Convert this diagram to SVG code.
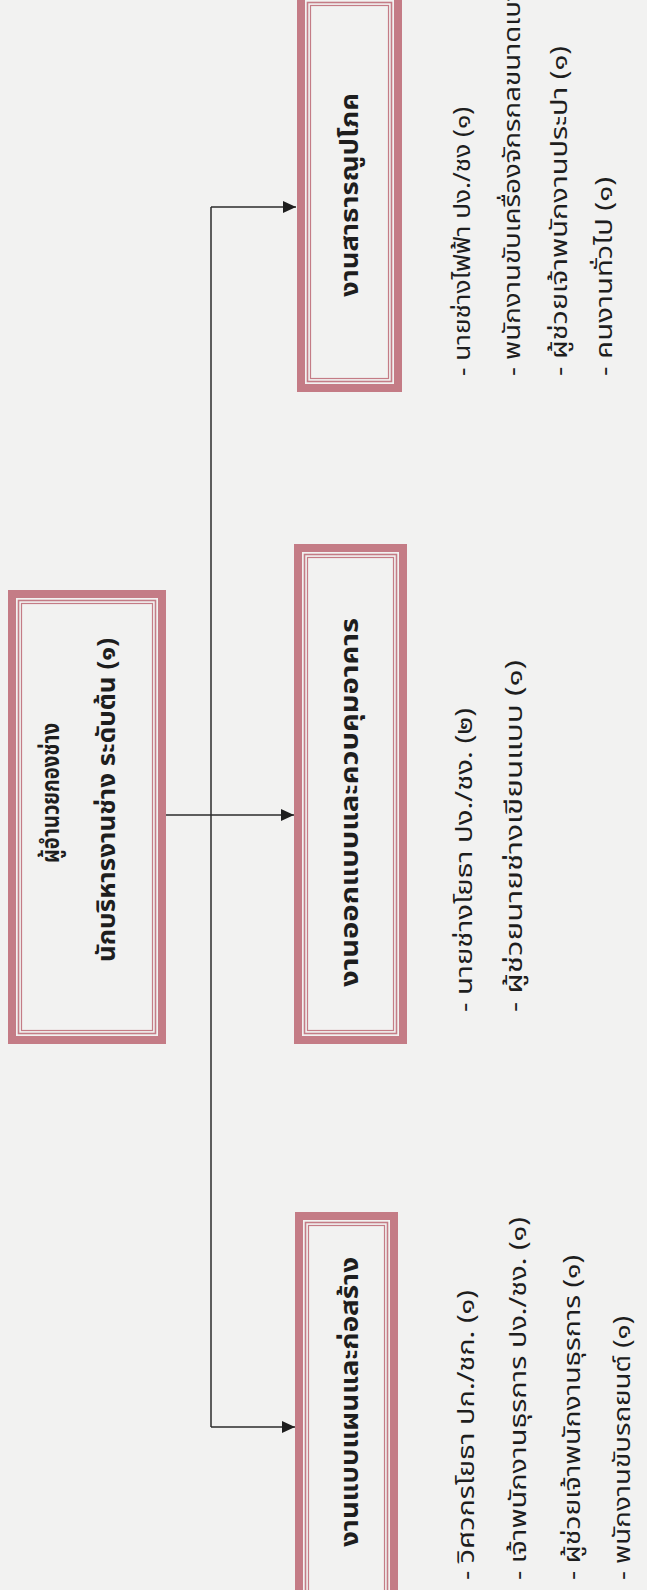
<svg xmlns="http://www.w3.org/2000/svg" width="647" height="1590" viewBox="0 0 647 1590">
<style>
.bg{fill:#f2f2f1}
.band{fill:none;stroke:#c47c86;stroke-width:8}
.thin1{fill:none;stroke:#c47c86;stroke-width:1.6}
.thin2{fill:none;stroke:#c47c86;stroke-width:1.2}
.conn{fill:none;stroke:#2b2b2b;stroke-width:1.5}
text{font-family:"Noto Sans Thai","Noto Sans","DejaVu Sans",sans-serif;fill:#1e1e1e}
.title{font-size:25px;font-weight:bold}
.item{font-size:23px}
</style>
<defs>
<marker id="ah" markerUnits="userSpaceOnUse" markerWidth="14" markerHeight="12" refX="13" refY="6" orient="auto">
<path d="M0,0 L13,6 L0,12 Z" fill="#1e1e1e"/>
</marker>
</defs>
<rect class="bg" x="0" y="0" width="647" height="1590"/>

<g id="connectors">
<line class="conn" x1="211" y1="207" x2="211" y2="1427"/>
<line class="conn" x1="211" y1="207" x2="296" y2="207" marker-end="url(#ah)"/>
<line class="conn" x1="158" y1="815" x2="294" y2="815" marker-end="url(#ah)"/>
<line class="conn" x1="211" y1="1427" x2="295" y2="1427" marker-end="url(#ah)"/>
</g>

<g id="node-head">
<rect class="band" x="12" y="594" width="150" height="446"/>
<rect class="thin1" x="18.5" y="600.5" width="137" height="433"/>
<rect class="thin2" x="21.5" y="603.5" width="131" height="427"/>
<text class="title" transform="translate(59,863) rotate(-90)" textLength="140" lengthAdjust="spacingAndGlyphs">ผู้อำนวยกองช่าง</text>
<text class="title" transform="translate(115,962) rotate(-90)" textLength="324" lengthAdjust="spacingAndGlyphs">นักบริหารงานช่าง ระดับต้น (๑)</text>
</g>

<g id="node-utilities">
<rect class="band" x="301" y="-4" width="97" height="392"/>
<rect class="thin1" x="307.5" y="2.5" width="84" height="379"/>
<rect class="thin2" x="310.5" y="5.5" width="78" height="373"/>
<text class="title" transform="translate(358,297) rotate(-90)" textLength="204" lengthAdjust="spacingAndGlyphs">งานสาธารณูปโภค</text>
</g>
<g id="list-utilities">
<text class="item" transform="translate(470,376) rotate(-90)" textLength="269" lengthAdjust="spacingAndGlyphs">- นายช่างไฟฟ้า ปง./ชง (๑)</text>
<text class="item" transform="translate(520,376) rotate(-90)" textLength="425" lengthAdjust="spacingAndGlyphs">- พนักงานขับเครื่องจักรกลขนาดเบา (๑)</text>
<text class="item" transform="translate(567,376) rotate(-90)" textLength="330" lengthAdjust="spacingAndGlyphs">- ผู้ช่วยเจ้าพนักงานประปา (๑)</text>
<text class="item" transform="translate(612,376) rotate(-90)" textLength="199" lengthAdjust="spacingAndGlyphs">- คนงานทั่วไป (๑)</text>
</g>

<g id="node-design">
<rect class="band" x="298" y="548" width="105" height="492"/>
<rect class="thin1" x="304.5" y="554.5" width="92" height="479"/>
<rect class="thin2" x="307.5" y="557.5" width="86" height="473"/>
<text class="title" transform="translate(358,987) rotate(-90)" textLength="369" lengthAdjust="spacingAndGlyphs">งานออกแบบและควบคุมอาคาร</text>
</g>
<g id="list-design">
<text class="item" transform="translate(472,1012) rotate(-90)" textLength="304" lengthAdjust="spacingAndGlyphs">- นายช่างโยธา  ปง./ชง. (๒)</text>
<text class="item" transform="translate(522,1012) rotate(-90)" textLength="352" lengthAdjust="spacingAndGlyphs">- ผู้ช่วยนายช่างเขียนแบบ (๑)</text>
</g>

<g id="node-construction">
<rect class="band" x="299" y="1216" width="95" height="390"/>
<rect class="thin1" x="305.5" y="1222.5" width="82" height="377"/>
<rect class="thin2" x="308.5" y="1225.5" width="76" height="371"/>
<text class="title" transform="translate(358,1547) rotate(-90)" textLength="290" lengthAdjust="spacingAndGlyphs">งานแบบแผนและก่อสร้าง</text>
</g>
<g id="list-construction">
<text class="item" transform="translate(474,1580) rotate(-90)" textLength="290" lengthAdjust="spacingAndGlyphs">- วิศวกรโยธา ปก./ชก. (๑)</text>
<text class="item" transform="translate(526,1580) rotate(-90)" textLength="363" lengthAdjust="spacingAndGlyphs">- เจ้าพนักงานธุรการ ปง./ชง. (๑)</text>
<text class="item" transform="translate(580,1580) rotate(-90)" textLength="325" lengthAdjust="spacingAndGlyphs">- ผู้ช่วยเจ้าพนักงานธุรการ (๑)</text>
<text class="item" transform="translate(630,1580) rotate(-90)" textLength="264" lengthAdjust="spacingAndGlyphs">- พนักงานขับรถยนต์ (๑)</text>
</g>
</svg>
